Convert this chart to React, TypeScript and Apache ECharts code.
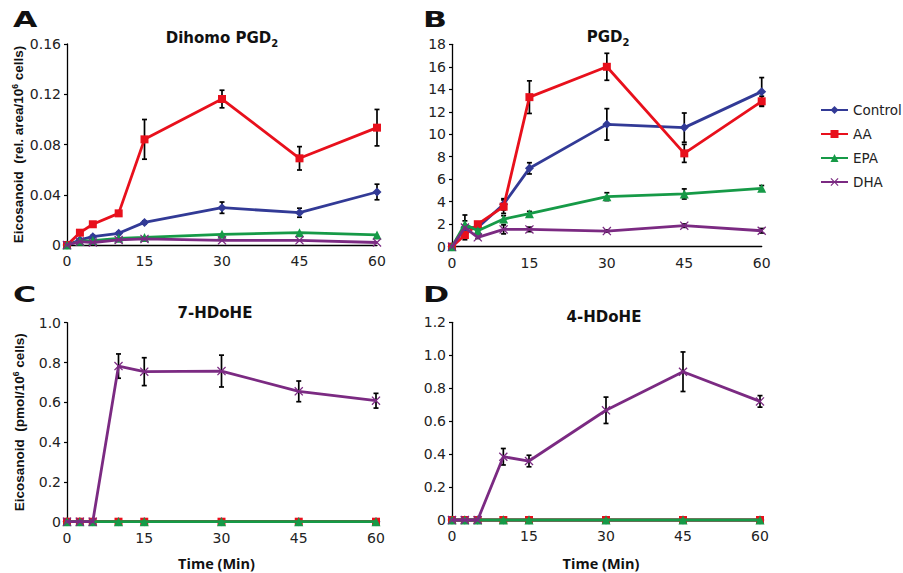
import React, { useEffect, useRef } from "react";
import * as echarts from "echarts";

const times = [0, 2.5, 5, 10, 15, 30, 45, 60];
const seriesNames = ["Control", "AA", "EPA", "DHA"];
const xTicks = [0, 15, 30, 45, 60];

// Panel A: Dihomo PGD2
const aControl = [0, 0.004, 0.0066, 0.0093, 0.018, 0.0297, 0.0257, 0.0422];
const aControlErr = [0, 0.001, 0.001, 0.001, 0.0012, 0.0045, 0.0036, 0.0062];
const aAA = [0, 0.0098, 0.0165, 0.0252, 0.0841, 0.1162, 0.069, 0.0934];
const aAAErr = [0, 0.0015, 0.001, 0.002, 0.0158, 0.007, 0.0093, 0.0145];
const aEPA = [0, 0.003, 0.0035, 0.0053, 0.006, 0.0085, 0.0098, 0.008];
const aEPAErr = [0, 0, 0, 0, 0, 0, 0, 0];
const aDHA = [0, 0.0027, 0.002, 0.004, 0.0048, 0.0037, 0.0037, 0.002];
const aDHAErr = [0, 0, 0, 0, 0, 0, 0, 0];

// Panel B: PGD2
const bControl = [0, 1.72, 1.7, 3.77, 6.97, 10.88, 10.59, 13.79];
const bControlErr = [0, 1.1, 0.3, 0.5, 0.5, 1.4, 1.3, 1.25];
const bAA = [0, 1.04, 2.0, 3.56, 13.3, 16.0, 8.3, 12.93];
const bAAErr = [0, 0.2, 0.2, 0.6, 1.45, 1.2, 0.8, 0.45];
const bEPA = [0, 2.0, 1.42, 2.46, 2.94, 4.45, 4.69, 5.19];
const bEPAErr = [0, 0.3, 0.2, 0.3, 0.2, 0.35, 0.45, 0.25];
const bDHA = [0, 1.7, 0.83, 1.54, 1.54, 1.39, 1.87, 1.42];
const bDHAErr = [0, 0.2, 0.1, 0.4, 0.2, 0.1, 0.15, 0.2];

// Panel C: 7-HDoHE
const cControl = [0, 0, 0, 0, 0, 0, 0, 0];
const cAA = [0, 0, 0, 0, 0, 0, 0, 0];
const cEPA = [0, 0, 0, 0, 0, 0, 0, 0];
const cDHA = [0, 0, 0, 0.782, 0.754, 0.757, 0.655, 0.608];
const cDHAErr = [0, 0, 0, 0.061, 0.07, 0.08, 0.052, 0.037];

// Panel D: 4-HDoHE
const dControl = [0, 0, 0, 0, 0, 0, 0, 0];
const dAA = [0, 0, 0, 0, 0, 0, 0, 0];
const dEPA = [0, 0, 0, 0, 0, 0, 0, 0];
const dDHA = [0, 0, 0, 0.384, 0.358, 0.666, 0.9, 0.72];
const dDHAErr = [0, 0, 0, 0.05, 0.035, 0.08, 0.12, 0.035];

const zeros = [0, 0, 0, 0, 0, 0, 0, 0];

const COLORS = ["#323a96", "#e8101c", "#169a47", "#7b2a82"];
const XSYM =
  "path://M1,0 L5,4 L9,0 L10,1 L6,5 L10,9 L9,10 L5,6 L1,10 L0,9 L4,5 L0,1 Z";
const SYMBOLS = ["diamond", "rect", "triangle", XSYM];
const SYMSIZE = [9, 8, 9, 9];

const panels = [
  {
    title: "{t|Dihomo PGD}{s|2}",
    letter: "A",
    grid: { left: 67, top: 44, right: 526, bottom: 328 },
    max: 0.16,
    interval: 0.04,
    dec: 2,
    vals: [aControl, aAA, aEPA, aDHA],
    errs: [aControlErr, aAAErr, aEPAErr, aDHAErr],
    yName: "{a|Eicosanoid  (rel. area/10}{s|6}{a| cells)}",
    titlePos: [222, 38],
    letterPos: [13, 20],
    timeLabel: false,
  },
  {
    title: "{t|PGD}{s|2}",
    letter: "B",
    grid: { left: 452, top: 44.3, right: 141.3, bottom: 326.3 },
    max: 18,
    interval: 2,
    dec: 0,
    vals: [bControl, bAA, bEPA, bDHA],
    errs: [bControlErr, bAAErr, bEPAErr, bDHAErr],
    yName: "",
    titlePos: [608, 37],
    letterPos: [423, 20],
    timeLabel: false,
  },
  {
    title: "{t|7-HDoHE}",
    letter: "C",
    grid: { left: 67, top: 322.7, right: 527, bottom: 51.3 },
    max: 1.0,
    interval: 0.2,
    dec: 1,
    vals: [cControl, cAA, cEPA, cDHA],
    errs: [zeros, zeros, zeros, cDHAErr],
    yName: "{a|Eicosanoid  (pmol/10}{s|6}{a| cells)}",
    titlePos: [215, 313],
    letterPos: [13, 295],
    timeLabel: true,
  },
  {
    title: "{t|4-HDoHE}",
    letter: "D",
    grid: { left: 452, top: 322.3, right: 143, bottom: 53 },
    max: 1.2,
    interval: 0.2,
    dec: 1,
    vals: [dControl, dAA, dEPA, dDHA],
    errs: [zeros, zeros, zeros, dDHAErr],
    yName: "",
    titlePos: [604, 317],
    letterPos: [423, 295],
    timeLabel: true,
  },
];

const TICK_FONT = "DejaVu Sans";

export default function App() {
  const ref = useRef<HTMLDivElement>(null);
  useEffect(() => {
    if (!ref.current) return;
    const chart = echarts.init(ref.current, undefined, { renderer: "svg" });

    const grids: any[] = [];
    const xAxes: any[] = [];
    const yAxes: any[] = [];
    const series: any[] = [];
    const graphics: any[] = [];

    panels.forEach((p, i) => {
      grids.push({ ...p.grid, containLabel: false });
      xAxes.push({
        type: "value",
        gridIndex: i,
        min: xTicks[0],
        max: xTicks[xTicks.length - 1],
        interval: xTicks[1] - xTicks[0],
        axisLine: { show: true, onZero: false, lineStyle: { color: "#000", width: 1.3 } },
        axisTick: { show: false },
        splitLine: { show: false },
        axisLabel: {
          fontFamily: TICK_FONT,
          fontSize: 14,
          color: "#222",
          margin: 9,
        },
      });
      yAxes.push({
        type: "value",
        gridIndex: i,
        min: 0,
        max: p.max,
        interval: p.interval,
        axisLine: { show: true, lineStyle: { color: "#000", width: 1.3 } },
        axisTick: { show: true, length: 3, lineStyle: { color: "#000", width: 1.2 } },
        splitLine: { show: false },
        axisLabel: {
          fontFamily: TICK_FONT,
          fontSize: 14,
          color: "#222",
          margin: 6,
          formatter: (v: number) => (Math.abs(v) < 1e-9 ? "0" : v.toFixed(p.dec)),
        },
        name: p.yName,
        nameLocation: "middle",
        nameRotate: 90,
        nameGap: 40,
        nameTextStyle: {
          rich: {
            a: {
              fontFamily: "Liberation Sans",
              fontWeight: "bold",
              fontSize: 13.5,
              color: "#111",
              lineHeight: 16,
            },
            s: {
              fontFamily: "Liberation Sans",
              fontWeight: "bold",
              fontSize: 8.5,
              color: "#111",
              lineHeight: 16,
              verticalAlign: "top",
            },
          },
        },
      });

      // error bars
      const errData: any[] = [];
      p.vals.forEach((vals, s) => {
        const errs = p.errs[s];
        times.forEach((t, k) => {
          if (errs[k] > 0) errData.push([t, vals[k] - errs[k], vals[k] + errs[k]]);
        });
      });
      series.push({
        type: "custom",
        name: "err" + i,
        xAxisIndex: i,
        yAxisIndex: i,
        z: 1,
        silent: true,
        encode: { x: 0, y: [1, 2] },
        data: errData,
        renderItem: (params: any, api: any) => {
          const x = api.value(0);
          const lo = api.coord([x, api.value(1)]);
          const hi = api.coord([x, api.value(2)]);
          const hw = 2.5;
          const st = { stroke: "#000", lineWidth: 1.7 };
          return {
            type: "group",
            children: [
              { type: "line", shape: { x1: lo[0], y1: lo[1], x2: hi[0], y2: hi[1] }, style: st },
              { type: "line", shape: { x1: hi[0] - hw, y1: hi[1], x2: hi[0] + hw, y2: hi[1] }, style: st },
              { type: "line", shape: { x1: lo[0] - hw, y1: lo[1], x2: lo[0] + hw, y2: lo[1] }, style: st },
            ],
          };
        },
      });

      p.vals.forEach((vals, s) => {
        series.push({
          type: "line",
          name: seriesNames[s],
          xAxisIndex: i,
          yAxisIndex: i,
          z: 2 + s * 0.01,
          clip: false,
          data: times.map((t, k) => [t, vals[k]]),
          symbol: SYMBOLS[s],
          symbolSize: SYMSIZE[s],
          showAllSymbol: true,
          color: COLORS[s],
          lineStyle: { color: COLORS[s], width: 2.8 },
          itemStyle: { color: COLORS[s] },
        });
      });

      graphics.push({
        type: "text",
        x: p.titlePos[0],
        y: p.titlePos[1],
        style: {
          text: p.title,
          align: "center",
          verticalAlign: "middle",
          rich: {
            t: {
              fontFamily: "DejaVu Sans",
              fontWeight: "bold",
              fontSize: 15,
              fill: "#111",
              lineHeight: 20,
            },
            s: {
              fontFamily: "DejaVu Sans",
              fontWeight: "bold",
              fontSize: 10,
              fill: "#111",
              lineHeight: 20,
              verticalAlign: "bottom",
            },
          },
        },
      });
      graphics.push({
        type: "text",
        x: p.letterPos[0],
        y: p.letterPos[1],
        scaleX: 1.5,
        style: {
          text: p.letter,
          fontFamily: "DejaVu Sans",
          fontWeight: "bold",
          fontSize: 21,
          fill: "#111",
          align: "left",
          verticalAlign: "middle",
        },
      });
      if (p.timeLabel) {
        const g = p.grid as any;
        const cx = g.left + (903 - g.left - g.right) / 2 - 5;
        graphics.push({
          type: "text",
          x: cx,
          y: 563,
          style: {
            text: "Time (Min)",
            fontFamily: "Open Sans",
            fontWeight: "bold",
            fontSize: 14.5,
            fill: "#111",
            align: "center",
            verticalAlign: "middle",
          },
        });
      }
    });

    chart.setOption({
      animation: false,
      backgroundColor: "#fff",
      grid: grids,
      xAxis: xAxes,
      yAxis: yAxes,
      series,
      graphic: graphics,
      legend: {
        data: seriesNames,
        orient: "vertical",
        left: 820,
        top: 103,
        padding: 0,
        width: 83,
        itemWidth: 27,
        itemHeight: 10,
        itemGap: 10,
        textStyle: {
          fontFamily: "DejaVu Sans",
          fontSize: 13.5,
          color: "#222",
          overflow: "none",
        },
        selectedMode: false,
      },
    });
    return () => chart.dispose();
  }, []);
  return <div ref={ref} style={{ width: 903, height: 573, position: "absolute", left: 0, top: 0 }} />;
}
